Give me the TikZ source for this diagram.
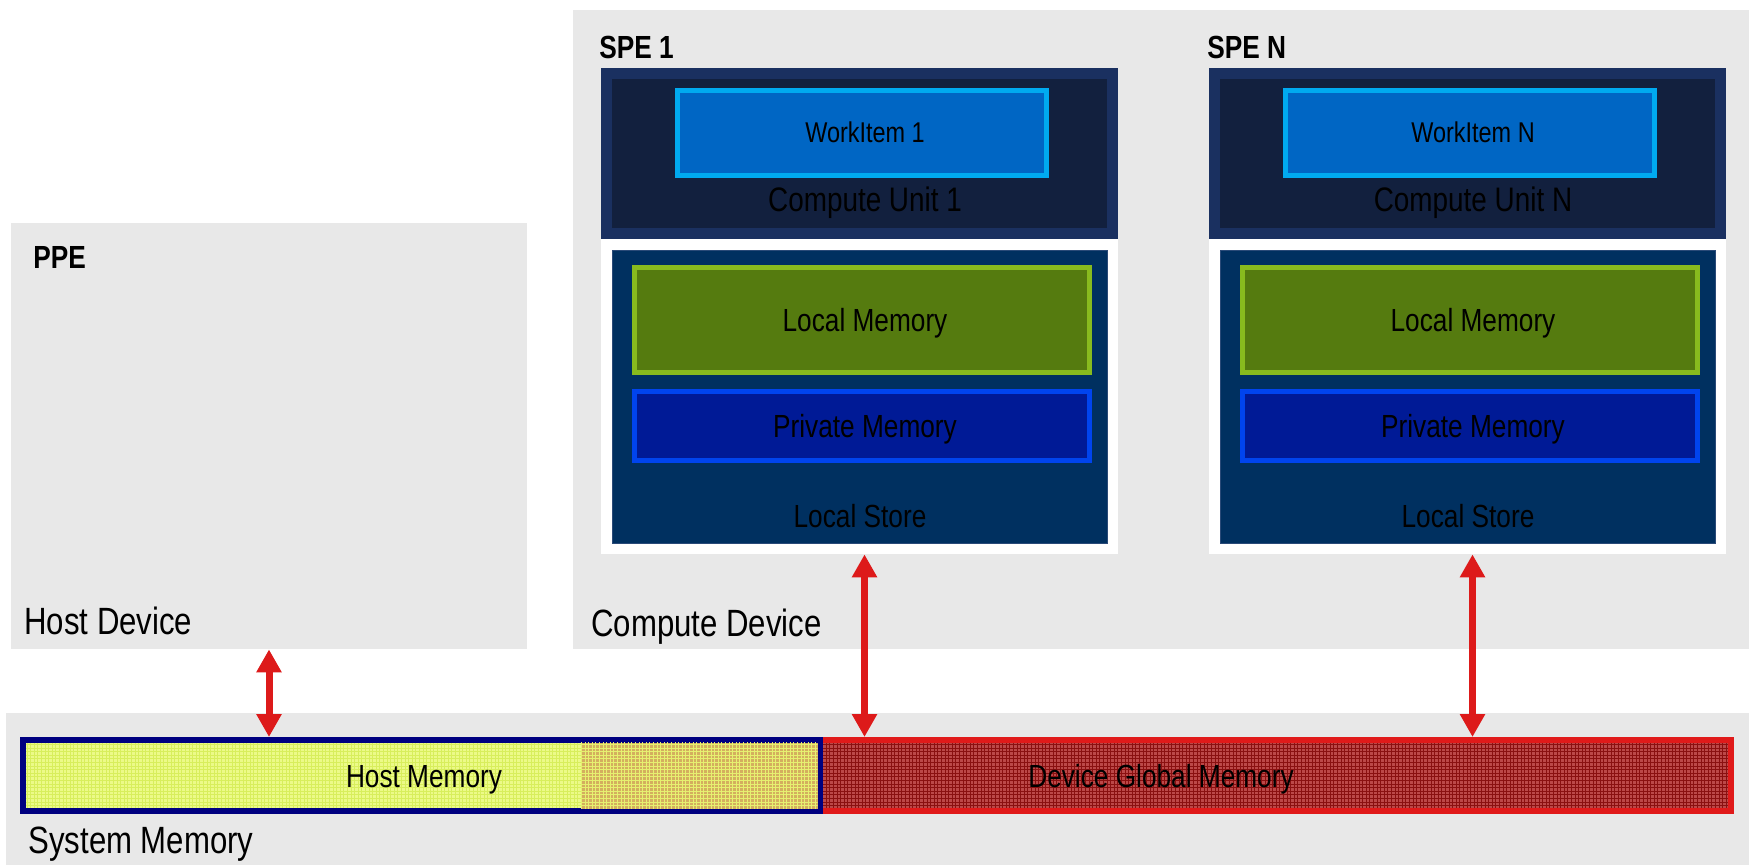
\documentclass[tikz,border=0pt]{standalone}
\usepackage{fontspec}
\setmainfont[FakeStretch=0.82]{Liberation Sans}
\usetikzlibrary{fit,arrows.meta,patterns}

% fine square grid used for the memory textures
\pgfdeclarepatternformonly{finegrid}{\pgfqpoint{-0.1pt}{-0.1pt}}{\pgfqpoint{1.9pt}{1.9pt}}{\pgfqpoint{1.8pt}{1.8pt}}{%
  \pgfsetlinewidth{0.35pt}%
  \pgfpathmoveto{\pgfqpoint{0pt}{0.9pt}}\pgfpathlineto{\pgfqpoint{1.8pt}{0.9pt}}%
  \pgfpathmoveto{\pgfqpoint{0.9pt}{0pt}}\pgfpathlineto{\pgfqpoint{0.9pt}{1.8pt}}%
  \pgfusepath{stroke}}

\definecolor{bggrey}{HTML}{E8E8E8}
\definecolor{cuedge}{HTML}{1A3060}
\definecolor{cufill}{HTML}{12203E}
\definecolor{wiedge}{HTML}{00AAF0}
\definecolor{wifill}{HTML}{0066C4}
\definecolor{lsfill}{HTML}{003060}
\definecolor{lsedge}{HTML}{2A4A78}
\definecolor{lmedge}{HTML}{88BB1E}
\definecolor{lmfill}{HTML}{557B0F}
\definecolor{pmedge}{HTML}{0044EE}
\definecolor{pmfill}{HTML}{001A96}
\definecolor{hmedge}{HTML}{000080}
\definecolor{hmfill}{HTML}{ECFA88}
\definecolor{hmgrid}{HTML}{D8EE5C}
\definecolor{mixfill}{HTML}{D4AE5E}
\definecolor{mixgrid}{HTML}{E6F070}
\definecolor{devedge}{HTML}{E01A1A}
\definecolor{devfill}{HTML}{BC4848}
\definecolor{devgrid}{HTML}{8A1010}
\definecolor{arrowred}{HTML}{DD1A1A}

\begin{document}
\begin{tikzpicture}[x=0.5pt,y=-0.5pt,
  panel/.style={fill=bggrey, draw=none, inner sep=0pt},
  cubox/.style={draw=cuedge, line width=5.5pt, fill=cufill, inner sep=0pt},
  wibox/.style={draw=wiedge, line width=2.5pt, fill=wifill, inner sep=0pt},
  whitebox/.style={fill=white, draw=none, inner sep=0pt},
  lsbox/.style={draw=lsedge, line width=0.5pt, fill=lsfill, inner sep=0pt},
  lmbox/.style={draw=lmedge, line width=2.5pt, fill=lmfill, inner sep=0pt},
  pmbox/.style={draw=pmedge, line width=2.5pt, fill=pmfill, inner sep=0pt},
  devbox/.style={draw=devedge, line width=3pt, preaction={fill=devfill},
    pattern=finegrid, pattern color=devgrid, inner sep=0pt},
  hostmem/.style={draw=hmedge, line width=3pt, preaction={fill=hmfill},
    pattern=finegrid, pattern color=hmgrid, inner sep=0pt},
  mixzone/.style={preaction={fill=mixfill}, pattern=finegrid, pattern color=mixgrid},
  lbl/.style={font=\fontsize{16}{19}\selectfont, inner sep=0pt, text=black},
  lblsm/.style={font=\fontsize{14.3}{17}\selectfont, inner sep=0pt, text=black},
  lblcu/.style={font=\fontsize{17}{20}\selectfont, inner sep=0pt, text=black},
  biglbl/.style={font=\fontsize{19}{22}\selectfont, inner sep=0pt, text=black},
  heading/.style={font=\fontsize{16}{19}\selectfont\bfseries, inner sep=0pt, text=black},
  biarrow/.style={draw=arrowred, line width=3.5pt,
    {Triangle[width=12pt,length=11.5pt]}-{Triangle[width=12pt,length=11.5pt]}}]

\useasboundingbox (0,0) rectangle (1749,865);
\fill[white] (0,0) rectangle (1749,865);

% grey panels
\node (host) [panel, fit={(11,223) (527,649)}] {};
\node (cdev) [panel, fit={(573,10) (1749,649)}] {};
\node (sysmem) [panel, fit={(6,713) (1749,865)}] {};

\node (ppe) [heading, anchor=base west] at (33,269) {PPE};
\node (hdt) [biglbl, anchor=base west] at (24,634) {Host Device};
\node (cdt) [biglbl, anchor=base west] at (591,636) {Compute Device};
\node (smt) [biglbl, anchor=base west] at (28,853) {System Memory};

% the two SPEs
\foreach \dx/\k/\lab in {0/1/1, 608/2/N}{
  \node (spe\k) [heading, anchor=base west] at ({599+\dx},59) {SPE \lab};
  \node (cu\k) [cubox, fit={({606.5+\dx},73.5) ({1112.5+\dx},233.5)}] {};
  \node (wi\k) [wibox, fit={({677.5+\dx},90.5) ({1046.5+\dx},175.5)}] {};
  \node (wit\k) [lblsm, anchor=base] at ({865+\dx},143) {WorkItem \lab};
  \node (cut\k) [lblcu, anchor=base] at ({865+\dx},212) {Compute Unit \lab};
  \node (ls\k) [whitebox, fit={({601+\dx},239) ({1118+\dx},554)}] {};
  \node (lsin\k) [lsbox, fit={({612+\dx},251) ({1107+\dx},543)}] {};
  \node (lm\k) [lmbox, fit={({634.5+\dx},267.5) ({1089.5+\dx},372.5)}] {};
  \node (lmt\k) [lbl, anchor=base] at ({865+\dx},331.5) {Local Memory};
  \node (pm\k) [pmbox, fit={({634.5+\dx},391.5) ({1089.5+\dx},460.5)}] {};
  \node (pmt\k) [lbl, anchor=base] at ({865+\dx},437.5) {Private Memory};
  \node (lst\k) [lbl, anchor=base] at ({860+\dx},527) {Local Store};
}

% system memory: device global memory lies partly under host memory
\node (dev) [devbox, fit={(584,740) (1731,811)}] {};
\node (hmem) [hostmem, fit={(23,740) (820,811)}] {};
\fill[mixzone] (581,742.5) rectangle (817.5,808.5);
\node (hmt) [lbl, anchor=base] at (424,787) {Host Memory};
\node (dgt) [lbl, anchor=base] at (1161,787) {Device Global Memory};

% transfers
\draw[biarrow] (host.south) -- (host.south |- hmem.north);
\draw[biarrow] ([xshift=2.5pt]ls1.south) -- ([xshift=2.5pt]ls1.south |- dev.north);
\draw[biarrow] ([xshift=2.5pt]ls2.south) -- ([xshift=2.5pt]ls2.south |- dev.north);
\end{tikzpicture}
\end{document}
